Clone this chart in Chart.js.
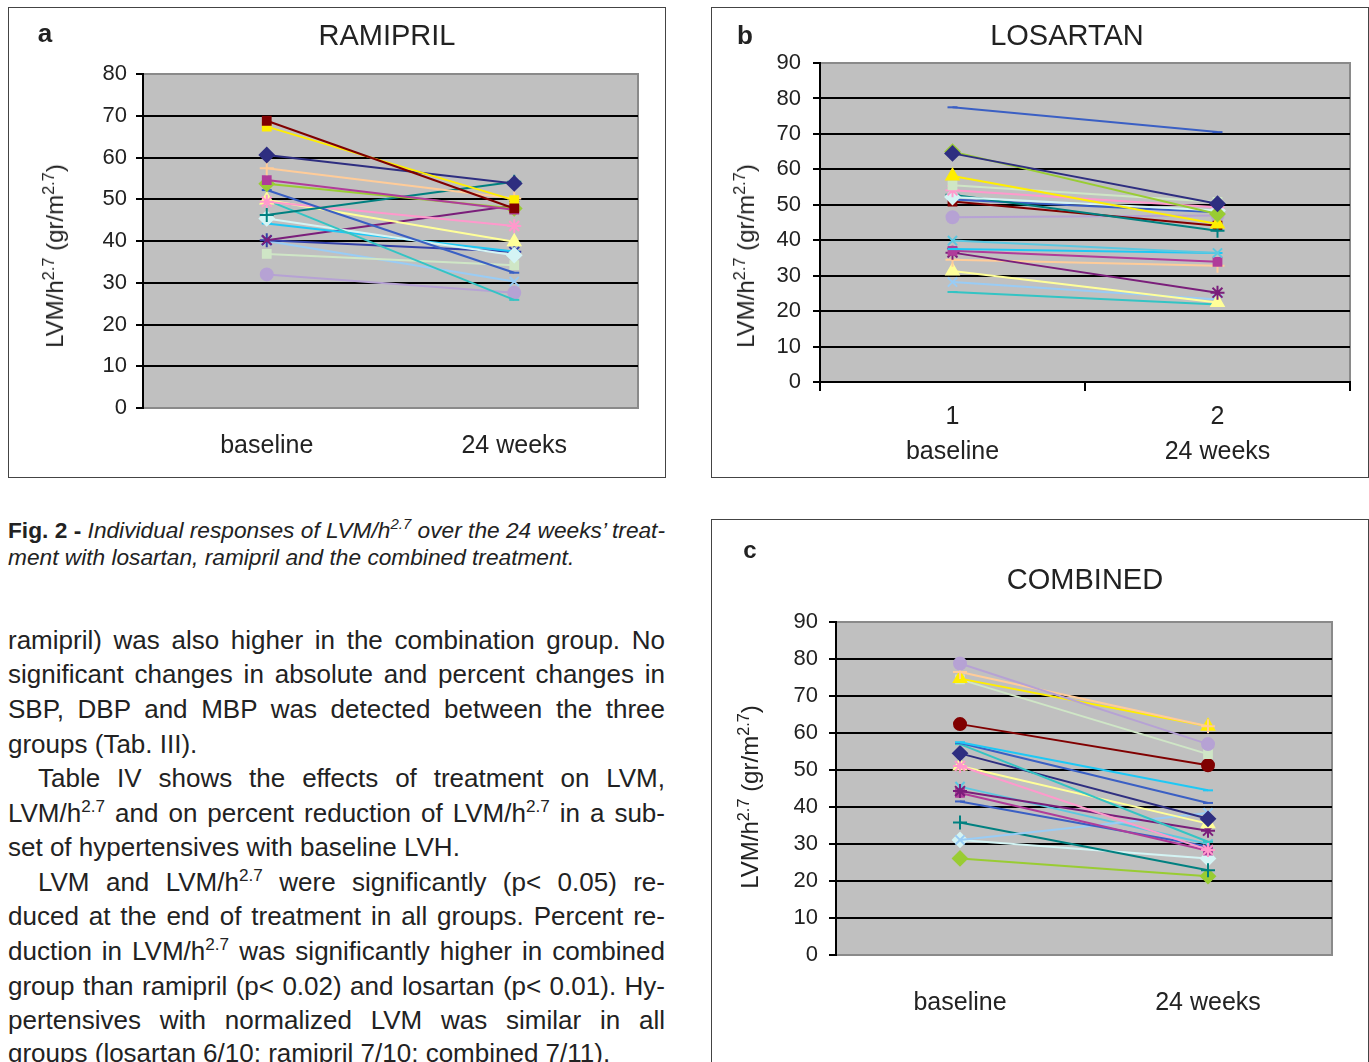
<!DOCTYPE html>
<html lang="en">
<head>
    <meta charset="UTF-8">
    <title>Fig. 2 - LVM/h2.7 individual responses</title>
    <script src="https://cdn.jsdelivr.net/npm/chart.js@4.4.0/dist/chart.umd.min.js"></script>
    <style>
        body {
            margin: 0;
            width: 1369px;
            height: 1062px;
            overflow: hidden;
            background: #fff;
            font-family: "Liberation Sans", Arial, sans-serif;
            color: #222;
            position: relative;
        }
        .frame {
            position: absolute;
            border: 1.5px solid #444;
            box-sizing: border-box;
        }
        .frame canvas {
            position: absolute;
            left: 0;
            top: 0;
        }
        .abs {
            position: absolute;
            white-space: nowrap;
            transform: translate(-50%, -50%);
        }
        .title { font-size: 29px; }
        .letter { font-size: 26px; font-weight: bold; }
        .ytitle {
            font-size: 24px;
            transform: translate(-50%, -50%) rotate(-90deg);
        }
        .ytitle sup { font-size: 68%; vertical-align: 0.55em; line-height: 0; }
        .line {
            position: absolute;
            left: 8px;
            width: 657px;
            white-space: nowrap;
            text-align: justify;
            text-align-last: justify;
            font-size: 26px;
            line-height: 34px;
            height: 34px;
        }
        .line.last { text-align-last: left; }
        .line.indent { text-indent: 30px; }
        .line sup { font-size: 66%; vertical-align: 0.6em; line-height: 0; }
        .cap { font-size: 22.7px; }
    </style>
</head>
<body>
    <!-- panel a -->
    <div class="frame" style="left:8px; top:7px; width:658px; height:471px;">
        <canvas id="chartA" width="655" height="468"></canvas>
    </div>
    <div class="abs letter" style="left:45px; top:33px;">a</div>
    <div class="abs title" style="left:387px; top:35px;">RAMIPRIL</div>
    <div class="abs ytitle" style="left:55px; top:256px;">LVM/h<sup>2.7</sup> (gr/m<sup>2.7</sup>)</div>

    <!-- panel b -->
    <div class="frame" style="left:711px; top:7px; width:658px; height:471px;">
        <canvas id="chartB" width="656" height="469"></canvas>
    </div>
    <div class="abs letter" style="left:745px; top:35px;">b</div>
    <div class="abs title" style="left:1067px; top:35px;">LOSARTAN</div>
    <div class="abs ytitle" style="left:746px; top:256px;">LVM/h<sup>2.7</sup> (gr/m<sup>2.7</sup>)</div>

    <!-- panel c -->
    <div class="frame" style="left:711px; top:519px; width:658px; height:560px;">
        <canvas id="chartC" width="656" height="542"></canvas>
    </div>
    <div class="abs letter" style="left:750px; top:550px; font-size:24px;">c</div>
    <div class="abs title" style="left:1085px; top:579px;">COMBINED</div>
    <div class="abs ytitle" style="left:750px; top:797px;">LVM/h<sup>2.7</sup> (gr/m<sup>2.7</sup>)</div>

    <!-- caption and text -->
    <div class="line cap" style="top:513px;"><b>Fig. 2 -</b> <i>Individual responses of LVM/h<sup>2.7</sup> over the 24 weeks’ treat-</i></div>
    <div class="line cap last" style="top:540px;"><i>ment with losartan, ramipril and the combined treatment.</i></div>

    <div class="line" style="top:623px;">ramipril) was also higher in the combination group. No</div>
    <div class="line" style="top:657px;">significant changes in absolute and percent changes in</div>
    <div class="line" style="top:692px;">SBP, DBP and MBP was detected between the three</div>
    <div class="line last" style="top:727px;">groups (Tab. III).</div>
    <div class="line indent" style="top:761px;">Table IV shows the effects of treatment on LVM,</div>
    <div class="line" style="top:796px;">LVM/h<sup>2.7</sup> and on percent reduction of LVM/h<sup>2.7</sup> in a sub-</div>
    <div class="line last" style="top:830px;">set of hypertensives with baseline LVH.</div>
    <div class="line indent" style="top:865px;">LVM and LVM/h<sup>2.7</sup> were significantly (p&lt; 0.05) re-</div>
    <div class="line" style="top:899px;">duced at the end of treatment in all groups. Percent re-</div>
    <div class="line" style="top:934px;">duction in LVM/h<sup>2.7</sup> was significantly higher in combined</div>
    <div class="line" style="top:969px;">group than ramipril (p&lt; 0.02) and losartan (p&lt; 0.01). Hy-</div>
    <div class="line" style="top:1003px;">pertensives with normalized LVM was similar in all</div>
    <div class="line last" style="top:1036px;">groups (losartan 6/10; ramipril 7/10; combined 7/11).</div>

    <script>
        // Data (LVM/h2.7, gr/m2.7)
        const ramiprilLabels = ['baseline', '24 weeks'];
        const ramiprilBaseline = [68.8, 67.4, 60.6, 57.4, 54.6, 53.7, 46.2, 52.2, 49.4, 49.8, 49.8, 45.4, 44.2, 40.2, 40.2, 36.9, 40.0, 32.0];
        const ramiprilWeek24   = [47.8, 49.8, 53.8, 50.2, 47.5, 47.8, 54.2, 32.4, 43.6, 39.8, 25.9, 36.6, 37.5, 48.5, 37.4, 34.2, 30.3, 27.6];

        const losartanLabels = [['1', 'baseline'], ['2', '24 weeks']];
        const losartanBaseline = [77.5, 64.5, 65.0, 58.1, 55.5, 54.1, 52.2, 52.8, 50.9, 51.5, 46.5, 39.9, 37.5, 37.0, 36.5, 34.5, 31.3, 28.2, 25.4];
        const losartanWeek24   = [70.5, 50.3, 47.4, 44.6, 50.8, 49.3, 48.4, 42.7, 44.1, 47.9, 47.0, 36.4, 36.4, 33.9, 25.2, 32.8, 22.4, 23.3, 21.9];

        const combinedLabels = ['baseline', '24 weeks'];
        const combinedBaseline = [78.8, 76.5, 74.7, 74.5, 62.4, 57.5, 57.3, 57.0, 54.5, 51.1, 51.1, 44.3, 43.8, 41.5, 31.1, 35.8, 31.1, 26.1, 45.5];
        const combinedWeek24   = [57.0, 61.8, 61.8, 54.3, 51.3, 44.5, 41.1, 30.6, 36.8, 28.4, 35.5, 33.6, 28.2, 29.3, 38.4, 22.9, 26.1, 21.3, 30.0];

        // series styles (colour + marker), one per patient line
        const ramiprilStyles = [
            ['#800000', 'rect'], ['#ffee00', 'rect'], ['#2e2e80', 'rectRot'], ['#ffcc99', 'cross'],
            ['#b03c9a', 'rect'], ['#99cc33', 'rectRot'], ['#008080', 'cross'], ['#3a5fc4', 'line'],
            ['#ff99cc', 'star'], ['#ffff99', 'triangle'], ['#33c4c4', 'line'], ['#d4f4f4', 'rectRot'],
            ['#1ec8f5', 'line'], ['#7a1e7a', 'crossRot'], ['#3340a8', 'star'], ['#cfe6c6', 'rect'],
            ['#99ccf5', 'crossRot'], ['#b6a2d4', 'circle']
        ];
        const losartanStyles = [
            ['#3a5fc4', 'line'], ['#2e2e80', 'rectRot'], ['#99cc33', 'rectRot'], ['#ffee00', 'triangle'],
            ['#cfe6c6', 'rect'], ['#ff99cc', 'star'], ['#d4f4f4', 'rectRot'], ['#008080', 'cross'],
            ['#800000', 'rect'], ['#3a5fc4', 'line'], ['#b6a2d4', 'circle'], ['#5cc8e0', 'crossRot'],
            ['#1ec8f5', 'line'], ['#b03c9a', 'rect'], ['#7a1e7a', 'star'], ['#ffcc99', 'cross'],
            ['#ffff99', 'triangle'], ['#99ccf5', 'crossRot'], ['#33c4c4', 'line']
        ];
        const combinedStyles = [
            ['#b6a2d4', 'circle'], ['#ffcc99', 'cross'], ['#ffee00', 'triangle'], ['#cfe6c6', 'rect'],
            ['#800000', 'circle'], ['#1ec8f5', 'line'], ['#3a5fc4', 'line'], ['#33c4c4', 'line'],
            ['#2e2e80', 'rectRot'], ['#ff99cc', 'star'], ['#ffff99', 'triangle'], ['#7a1e7a', 'star'],
            ['#b03c9a', 'rect'], ['#3a5fc4', 'line'], ['#99ccf5', 'crossRot'], ['#008080', 'cross'],
            ['#d4f4f4', 'rectRot'], ['#99cc33', 'rectRot'], ['#5cc8e0', 'crossRot']
        ];

        const markerSize = { rect: 5.5, rectRot: 7, triangle: 7, circle: 6, star: 7, cross: 7, crossRot: 6.5, line: 5 };

        // grey plot area with thin grey frame, like the original spreadsheet chart
        const plotBg = {
            id: 'plotBg',
            beforeDraw(chart) {
                const { ctx, chartArea: a } = chart;
                ctx.save();
                ctx.fillStyle = '#c0c0c0';
                ctx.fillRect(a.left, a.top, a.width, a.height);
                ctx.strokeStyle = '#8a8a8a';
                ctx.lineWidth = 2;
                ctx.strokeRect(a.left, a.top, a.width, a.height);
                ctx.restore();
            }
        };

        function buildDatasets(base, end, styles) {
            return base.map((v, i) => {
                const [color, marker] = styles[i];
                return {
                    data: [v, end[i]],
                    borderColor: color,
                    backgroundColor: color,
                    pointBackgroundColor: color,
                    pointBorderColor: color,
                    pointStyle: marker,
                    pointRadius: markerSize[marker],
                    pointBorderWidth: 2,
                    borderWidth: 2,
                    tension: 0
                };
            });
        }

        function makeChart(id, labels, base, end, styles, cfg) {
            return new Chart(document.getElementById(id), {
                type: 'line',
                data: { labels: labels, datasets: buildDatasets(base, end, styles) },
                plugins: [plotBg],
                options: {
                    responsive: false,
                    animation: false,
                    layout: { padding: { left: 0, top: cfg.top, right: cfg.right, bottom: 0 } },
                    plugins: { legend: { display: false }, tooltip: { enabled: false }, title: { display: false } },
                    scales: {
                        x: {
                            type: 'category',
                            offset: true,
                            afterFit: (s) => { s.height = cfg.xHeight; },
                            grid: cfg.xTicks
                                ? { display: true, drawOnChartArea: false, offset: true, color: '#000', tickLength: 9, lineWidth: 2 }
                                : { display: false },
                            border: cfg.xTicks ? { display: true, color: '#000', width: 2 } : { display: false },
                            ticks: {
                                color: '#222',
                                padding: cfg.xPad,
                                maxRotation: 0,
                                font: { family: 'Liberation Sans', size: 25, lineHeight: 1.4 }
                            }
                        },
                        y: {
                            min: 0,
                            max: cfg.yMax,
                            afterFit: (s) => { s.width = cfg.yWidth; },
                            grid: {
                                color: (c) => (c.tick.value === 0 || c.tick.value === cfg.yMax) ? 'rgba(0,0,0,0)' : '#000',
                                tickColor: '#000',
                                lineWidth: 2,
                                tickLength: 7
                            },
                            border: { display: true, color: '#000', width: 2 },
                            ticks: {
                                stepSize: 10,
                                color: '#222',
                                padding: cfg.yPad,
                                font: { family: 'Liberation Sans', size: 22 }
                            }
                        }
                    }
                }
            });
        }

        makeChart('chartA', ramiprilLabels, ramiprilBaseline, ramiprilWeek24, ramiprilStyles,
            { top: 66, right: 26, yWidth: 134, xHeight: 68, yMax: 80, yPad: 9, xPad: 13, xTicks: false });
        makeChart('chartB', losartanLabels, losartanBaseline, losartanWeek24, losartanStyles,
            { top: 55, right: 18, yWidth: 108, xHeight: 95, yMax: 90, yPad: 12, xPad: 9, xTicks: true });
        makeChart('chartC', combinedLabels, combinedBaseline, combinedWeek24, combinedStyles,
            { top: 102, right: 36, yWidth: 124, xHeight: 107, yMax: 90, yPad: 11, xPad: 23, xTicks: false });
    </script>
</body>
</html>
